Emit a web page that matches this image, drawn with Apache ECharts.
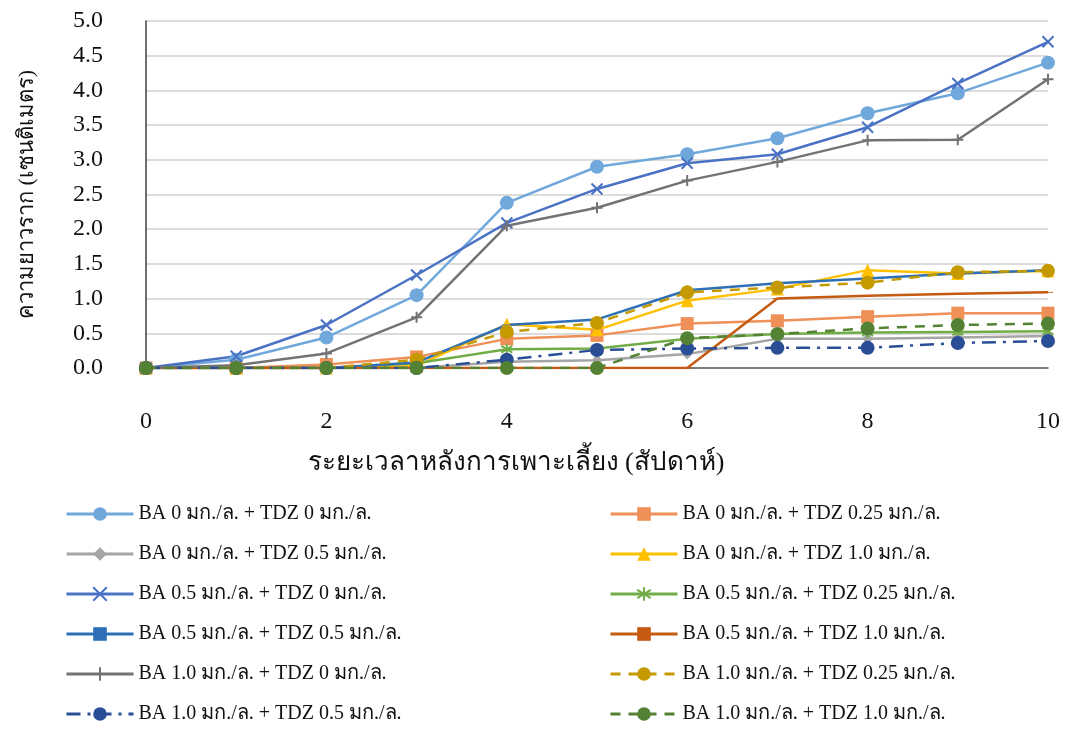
<!DOCTYPE html>
<html>
<head>
<meta charset="utf-8">
<title>ความยาวราก</title>
<script src="https://cdn.jsdelivr.net/npm/echarts@6/dist/echarts.min.js"></script>
<style>
    html, body { margin: 0; padding: 0; background: #ffffff; }
    #main { width: 1068px; height: 729px; }
</style>
</head>
<body>
<div id="main"></div>
<script>
// สัปดาห์หลังการเพาะเลี้ยง
var weeks = [0, 1, 2, 3, 4, 5, 6, 7, 8, 9, 10];
var yTicks = [0, 0.5, 1.0, 1.5, 2.0, 2.5, 3.0, 3.5, 4.0, 4.5, 5.0];

// ความยาวราก (ซม.) ของแต่ละชุดการทดลอง
var ba0_tdz0     = [0, 0.12, 0.44, 1.05, 2.38, 2.90, 3.08, 3.31, 3.67, 3.96, 4.40];
var ba0_tdz025   = [0, 0, 0.05, 0.16, 0.42, 0.47, 0.64, 0.68, 0.74, 0.79, 0.79];
var ba0_tdz05    = [0, 0, 0, 0, 0.09, 0.11, 0.20, 0.42, 0.42, 0.44, 0.46];
var ba0_tdz1     = [0, 0, 0, 0.03, 0.63, 0.55, 0.97, 1.14, 1.41, 1.36, 1.40];
var ba05_tdz0    = [0, 0.17, 0.62, 1.34, 2.09, 2.58, 2.95, 3.08, 3.47, 4.10, 4.70];
var ba05_tdz025  = [0, 0, 0, 0.07, 0.27, 0.28, 0.42, 0.49, 0.51, 0.52, 0.53];
var ba05_tdz05   = [0, 0, 0, 0.08, 0.62, 0.70, 1.12, 1.22, 1.29, 1.36, 1.41];
var ba05_tdz1    = [0, 0, 0, 0, 0, 0, 0, 1.00, 1.04, 1.07, 1.09];
var ba1_tdz0     = [0, 0.04, 0.21, 0.73, 2.05, 2.31, 2.70, 2.97, 3.28, 3.29, 4.16];
var ba1_tdz025   = [0, 0, 0, 0.12, 0.52, 0.65, 1.09, 1.16, 1.23, 1.38, 1.40];
var ba1_tdz05    = [0, 0, 0, 0, 0.12, 0.26, 0.28, 0.29, 0.29, 0.36, 0.39];
var ba1_tdz1     = [0, 0, 0, 0, 0, 0, 0.43, 0.49, 0.57, 0.62, 0.64];

var names = [
    "BA 0 มก./ล. + TDZ 0 มก./ล.",
    "BA 0 มก./ล. + TDZ 0.25 มก./ล.",
    "BA 0 มก./ล. + TDZ 0.5 มก./ล.",
    "BA 0 มก./ล. + TDZ 1.0 มก./ล.",
    "BA 0.5 มก./ล. + TDZ 0 มก./ล.",
    "BA 0.5 มก./ล. + TDZ 0.25 มก./ล.",
    "BA 0.5 มก./ล. + TDZ 0.5 มก./ล.",
    "BA 0.5 มก./ล. + TDZ 1.0 มก./ล.",
    "BA 1.0 มก./ล. + TDZ 0 มก./ล.",
    "BA 1.0 มก./ล. + TDZ 0.25 มก./ล.",
    "BA 1.0 มก./ล. + TDZ 0.5 มก./ล.",
    "BA 1.0 มก./ล. + TDZ 1.0 มก./ล."
];

var FONT = "'Liberation Serif', 'Times New Roman', serif";

// เครื่องหมายแบบเส้น (x, +, *) และขีดสั้น
var SYM_X    = "path://M0,0L10,10M10,0L0,10";
var SYM_PLUS = "path://M5,0L5,10M0,5L10,5";
var SYM_STAR = "path://M5,0L5,10M0,2L10,8M10,2L0,8";
var SYM_DASH = "path://M0,0L10,0L10,3L0,3Z";

function pairs(values) {
    var out = [];
    for (var i = 0; i < weeks.length; i++) {
        out.push([weeks[i], values[i]]);
    }
    return out;
}

function makeSeries(name, values, color, symbol, size, lineType, stroked) {
    return {
        name: name,
        type: "line",
        data: pairs(values),
        symbol: symbol,
        symbolSize: size,
        symbolKeepAspect: true,
        showAllSymbol: true,
        lineStyle: { color: color, width: 2.5, type: lineType || "solid" },
        itemStyle: stroked
            ? { color: color, borderColor: color, borderWidth: 2 }
            : { color: color, borderWidth: 0 },
        emphasis: { disabled: true },
        animation: false
    };
}

var series = [
    makeSeries(names[0],  ba0_tdz0,    "#70a8dc", "circle", 14),
    makeSeries(names[1],  ba0_tdz025,  "#ef9058", "rect", 13),
    makeSeries(names[2],  ba0_tdz05,   "#a5a5a5", "diamond", 11),
    makeSeries(names[3],  ba0_tdz1,    "#ffc000", "triangle", 13),
    makeSeries(names[4],  ba05_tdz0,   "#4a72c4", SYM_X, 11, "solid", true),
    makeSeries(names[5],  ba05_tdz025, "#70ad47", SYM_STAR, 11, "solid", true),
    makeSeries(names[6],  ba05_tdz05,  "#2e6fb5", SYM_DASH, [10, 3]),
    makeSeries(names[7],  ba05_tdz1,   "#c55a11", SYM_DASH, [10, 3]),
    makeSeries(names[8],  ba1_tdz0,    "#737373", SYM_PLUS, 11, "solid", true),
    makeSeries(names[9],  ba1_tdz025,  "#c49a00", "circle", 14, [10, 8]),
    makeSeries(names[10], ba1_tdz05,   "#2a4e96", "circle", 14, [14, 7, 3, 7]),
    makeSeries(names[11], ba1_tdz1,    "#548235", "circle", 14, [10, 8])
];

function legendBlock(left, idx) {
    var data = [];
    for (var i = 0; i < idx.length; i++) data.push(names[idx[i]]);
    return {
        orient: "vertical",
        left: left,
        top: 504,
        height: 226,
        padding: 0,
        itemWidth: 67,
        itemHeight: 17,
        itemGap: 20,
        lineStyle: { width: 3 },
        textStyle: { fontFamily: FONT, fontSize: 20, color: "#111111", lineHeight: 20 },
        selectedMode: false,
        data: data
    };
}

var myChart = echarts.init(document.getElementById("main"));

myChart.setOption({
    backgroundColor: "#ffffff",
    animation: false,
    grid: { left: 146, right: 20, top: 21, bottom: 361, containLabel: false },
    xAxis: {
        type: "value",
        min: 0,
        max: 10,
        interval: 2,
        name: "ระยะเวลาหลังการเพาะเลี้ยง (สัปดาห์)",
        nameLocation: "middle",
        nameGap: 82,
        nameTextStyle: { fontFamily: FONT, fontSize: 26, color: "#111111", padding: [0, 162, 0, 0] },
        axisLine: { show: true, onZero: false, lineStyle: { color: "#595959", width: 1.5 } },
        axisTick: { show: false },
        splitLine: { show: false },
        axisLabel: { margin: 42, fontFamily: FONT, fontSize: 24, color: "#111111" }
    },
    yAxis: {
        type: "value",
        min: yTicks[0],
        max: yTicks[yTicks.length - 1],
        interval: 0.5,
        name: "ความยาวราก (เซนติเมตร)",
        nameLocation: "middle",
        nameRotate: 90,
        nameGap: 108,
        nameTextStyle: { fontFamily: FONT, fontSize: 22, color: "#111111" },
        axisLine: { show: true, lineStyle: { color: "#404040", width: 1.5 } },
        axisTick: { show: false },
        splitLine: { show: true, lineStyle: { color: "#d0d0d0", width: 1.5 } },
        axisLabel: {
            margin: 43,
            fontFamily: FONT,
            fontSize: 24,
            color: "#111111",
            formatter: function (v) { return v.toFixed(1); }
        }
    },
    legend: [
        legendBlock(65, [0, 2, 4, 6, 8, 10]),
        legendBlock(609, [1, 3, 5, 7, 9, 11])
    ],
    series: series
});
</script>
</body>
</html>
